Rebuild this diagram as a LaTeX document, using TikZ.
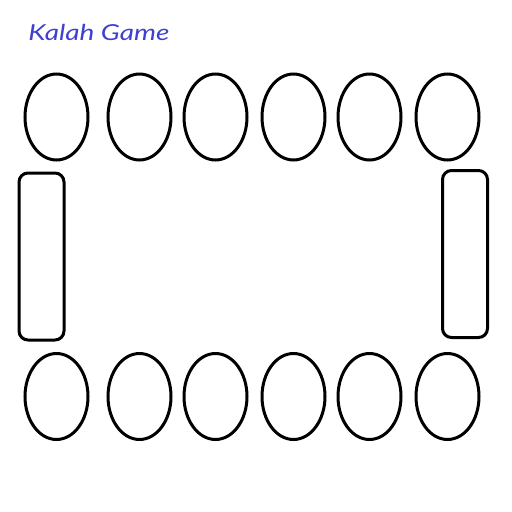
\documentclass[tikz,border=0pt]{standalone}
\usepackage{fontspec}
\setmainfont{Lato}
\definecolor{titleblue}{RGB}{64,64,208}
\tikzset{
  pit/.style={draw=black, line width=3pt, ellipse, minimum width=63pt, minimum height=86pt, inner sep=0pt},
  store/.style={draw=black, line width=3pt, rounded corners=9pt, minimum width=45pt, minimum height=167pt, inner sep=0pt},
  title/.style={text=titleblue, font=\itshape\fontsize{22}{26}\selectfont, anchor=base west, inner sep=0pt}
}
\usetikzlibrary{shapes.geometric}
\begin{document}
\begin{tikzpicture}[x=1pt,y=-1pt]
\useasboundingbox (0,0) rectangle (512,512);
\node[title, xscale=1.27] (title) at (28,40) {Kalah Game};
\foreach \i/\x in {1/56.5,2/139.5,3/215.5,4/293.5,5/369.5,6/447.5}{
  \node[pit] (t\i) at (\x,117) {};
  \node[pit] (b\i) at (\x,396.5) {};
}
\node[store] (sl) at (41.5,256.5) {};
\node[store] (sr) at (465,254) {};
\end{tikzpicture}
\end{document}
